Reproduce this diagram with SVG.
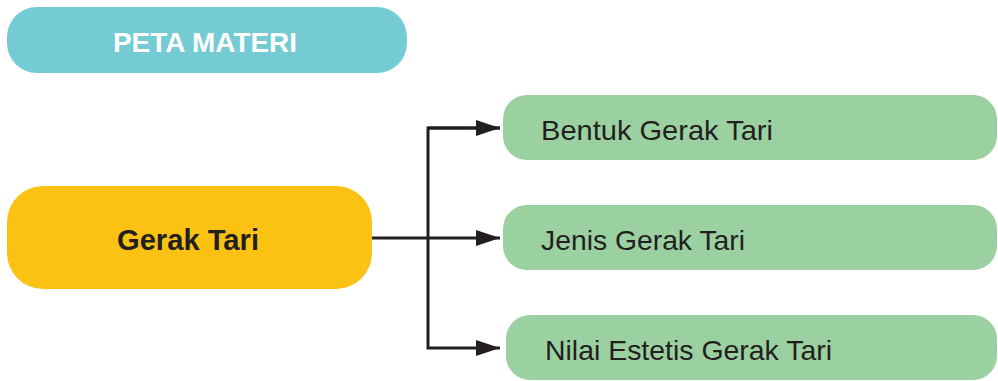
<svg xmlns="http://www.w3.org/2000/svg" width="998" height="381" viewBox="0 0 998 381">
<defs>
<style>
.t{font-family:"Liberation Sans",Arial,sans-serif;fill:#231f20}
.b{font-weight:bold}
.g{fill:#9bd1a0}
.c{stroke:#231f20;stroke-width:3;fill:none}
</style>
<marker id="ah" markerWidth="24" markerHeight="16" refX="24" refY="8" orient="auto" markerUnits="userSpaceOnUse">
<path d="M0,0 L24,8 L0,16 Z" fill="#231f20"/>
</marker>
</defs>
<rect width="998" height="381" fill="#fff"/>
<g id="peta">
<rect x="7" y="7" width="400" height="66" rx="30" fill="#74cbd3"/>
<text class="t b" x="113" y="52" font-size="28" textLength="184" lengthAdjust="spacingAndGlyphs" style="fill:#fff">PETA MATERI</text>
</g>
<g id="connectors">
<path class="c" d="M372,238 H500" marker-end="url(#ah)"/>
<path class="c" d="M500,128 H428 V348 H500" marker-end="url(#ah)"/>
<path class="c" d="M428,128 H500" marker-end="url(#ah)"/>
</g>
<g id="gerak">
<rect x="7" y="186" width="365" height="103" rx="36" fill="#fcc213"/>
<text class="t b" x="117" y="250" font-size="29" textLength="142" lengthAdjust="spacingAndGlyphs">Gerak Tari</text>
</g>
<g id="bentuk">
<rect class="g" x="503" y="95" width="494" height="65" rx="24"/>
<text class="t" x="541" y="140" font-size="28" textLength="232" lengthAdjust="spacingAndGlyphs">Bentuk Gerak Tari</text>
</g>
<g id="jenis">
<rect class="g" x="503" y="205" width="494" height="65" rx="24"/>
<text class="t" x="541" y="250" font-size="28" textLength="204" lengthAdjust="spacingAndGlyphs">Jenis Gerak Tari</text>
</g>
<g id="nilai">
<rect class="g" x="506" y="315" width="491" height="65" rx="24"/>
<text class="t" x="545" y="360" font-size="28" textLength="287" lengthAdjust="spacingAndGlyphs">Nilai Estetis Gerak Tari</text>
</g>
</svg>
